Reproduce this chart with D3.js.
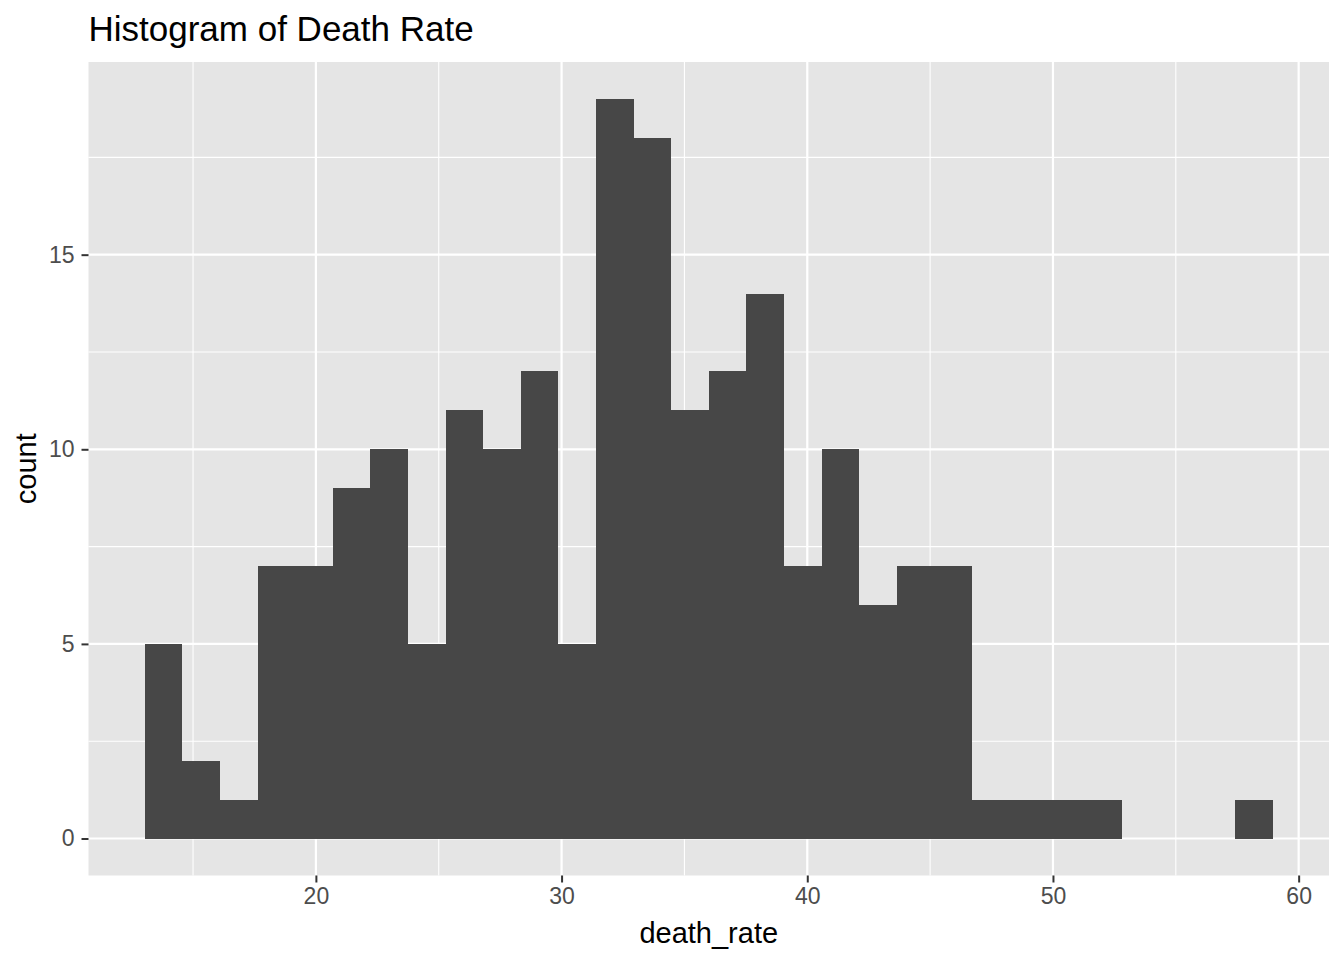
<!DOCTYPE html>
<html>
<head>
<meta charset="utf-8">
<script src="https://cdn.jsdelivr.net/npm/d3@7"></script>
<style>
  body { margin: 0; background: #fff; }
  text { font-family: "Liberation Sans", Arial, Helvetica, sans-serif; }
</style>
</head>
<body>
<svg width="1344" height="960"></svg>
<script>
// Histogram bins (30 bins)
var binStart = 13.04;
var binWidth = 1.53;
var counts = [5, 2, 1, 7, 7, 9, 10, 5, 11, 10, 12, 5, 19, 18, 11, 12, 14, 7, 10, 6, 7, 7, 1, 1, 1, 1, 0, 0, 0, 1];
var xTicks = [20, 30, 40, 50, 60];
var xMinor = [15, 25, 35, 45, 55];
var yTicks = [0, 5, 10, 15];
var yMinor = [2.5, 7.5, 12.5, 17.5];

var bins = counts.map(function(c, i) {
    return {x0: binStart + i * binWidth, x1: binStart + (i + 1) * binWidth, count: c};
});

var svg = d3.select('svg');
var panel = {l: 88.5, r: 1329, t: 62, b: 875.5};

// ggplot style 5% expansion
var xLo = bins[0].x0, xHi = bins[bins.length - 1].x1;
var xPad = (xHi - xLo) * 0.05;
var yMax = d3.max(counts);
var yPad = yMax * 0.05;

var xScale = d3.scaleLinear()
    .domain([xLo - xPad, xHi + xPad])
    .range([panel.l, panel.r]);
var yScale = d3.scaleLinear()
    .domain([-yPad, yMax + yPad])
    .range([panel.b, panel.t]);

// Panel background
svg.append('rect')
    .attr('x', panel.l).attr('y', panel.t)
    .attr('width', panel.r - panel.l).attr('height', panel.b - panel.t)
    .attr('fill', '#E5E5E5');

var gridG = svg.append('g');
// minor grid
gridG.selectAll('.xminor').data(xMinor).enter().append('line')
    .attr('x1', d => xScale(d)).attr('x2', d => xScale(d))
    .attr('y1', panel.t).attr('y2', panel.b)
    .attr('stroke', '#fff').attr('stroke-width', 1.1);
gridG.selectAll('.yminor').data(yMinor).enter().append('line')
    .attr('y1', d => yScale(d)).attr('y2', d => yScale(d))
    .attr('x1', panel.l).attr('x2', panel.r)
    .attr('stroke', '#fff').attr('stroke-width', 1.1);
// major grid
gridG.selectAll('.xmajor').data(xTicks).enter().append('line')
    .attr('x1', d => xScale(d)).attr('x2', d => xScale(d))
    .attr('y1', panel.t).attr('y2', panel.b)
    .attr('stroke', '#fff').attr('stroke-width', 2.2);
gridG.selectAll('.ymajor').data(yTicks).enter().append('line')
    .attr('y1', d => yScale(d)).attr('y2', d => yScale(d))
    .attr('x1', panel.l).attr('x2', panel.r)
    .attr('stroke', '#fff').attr('stroke-width', 2.2);

// Bars
svg.append('g').selectAll('rect').data(bins.filter(d => d.count > 0)).enter().append('rect')
    .attr('x', d => xScale(d.x0))
    .attr('width', d => xScale(d.x1) - xScale(d.x0))
    .attr('y', d => yScale(d.count))
    .attr('height', d => yScale(0) - yScale(d.count))
    .attr('fill', '#474747')
    .attr('shape-rendering', 'crispEdges');

// Axes
var xAxis = d3.axisBottom(xScale).tickValues(xTicks).tickSize(7).tickPadding(4);
var yAxis = d3.axisLeft(yScale).tickValues(yTicks).tickSize(7).tickPadding(7);

var xAxisG = svg.append('g')
    .attr('transform', 'translate(0,' + panel.b + ')')
    .call(xAxis);
var yAxisG = svg.append('g')
    .attr('transform', 'translate(' + panel.l + ',0)')
    .call(yAxis);

[xAxisG, yAxisG].forEach(function(g) {
    g.select('.domain').remove();
    g.selectAll('.tick line').attr('stroke', '#333').attr('stroke-width', 2);
    g.selectAll('.tick text')
        .attr('fill', '#4D4D4D')
        .style('font-size', '23px')
        .style('font-family', '"Liberation Sans", Arial, sans-serif');
});
xAxisG.selectAll('.tick text').attr('dy', '0.75em');

// Titles
svg.append('text')
    .attr('x', panel.l)
    .attr('y', 41)
    .style('font-size', '35px')
    .attr('fill', '#000')
    .text('Histogram of Death Rate');

svg.append('text')
    .attr('x', (panel.l + panel.r) / 2)
    .attr('y', 943)
    .attr('text-anchor', 'middle')
    .style('font-size', '29px')
    .attr('fill', '#000')
    .text('death_rate');

svg.append('text')
    .attr('transform', 'translate(36,' + ((panel.t + panel.b) / 2) + ') rotate(-90)')
    .attr('text-anchor', 'middle')
    .style('font-size', '29px')
    .attr('fill', '#000')
    .text('count');
</script>
</body>
</html>
